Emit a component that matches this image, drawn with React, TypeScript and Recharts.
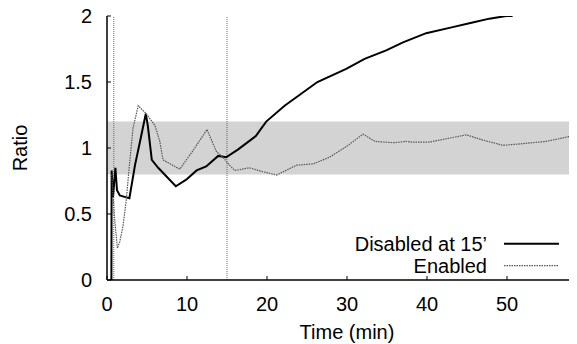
import React from 'react';
import { LineChart, Line, XAxis, YAxis, ReferenceArea, ReferenceLine, Legend } from 'recharts';

const FONT = '"Liberation Sans", Arial, Helvetica, sans-serif';

const disabledTime = [0.55, 0.58, 0.75, 1.05, 1.25, 1.6, 2.2, 2.8, 3.5, 4.2, 4.85, 5.1, 5.6, 6.4, 8.6, 9.9, 11.2, 12.4, 13.9, 14.9, 16.4, 18.6, 19.9, 22.2, 26.3, 29.9, 32.2, 34.9, 37.0, 39.9, 42.8, 45.7, 47.8, 49.9, 50.7];
const disabledRatio = [0, 0.83, 0.63, 0.85, 0.68, 0.64, 0.63, 0.62, 0.87, 1.07, 1.26, 1.17, 0.91, 0.85, 0.71, 0.76, 0.83, 0.86, 0.94, 0.93, 0.99, 1.09, 1.2, 1.32, 1.5, 1.6, 1.675, 1.74, 1.8, 1.87, 1.91, 1.95, 1.98, 2.0, 2.0];

const enabledTime = [0.6, 0.9, 1.3, 1.6, 2.0, 2.4, 2.8, 3.25, 3.9, 4.9, 6.0, 6.6, 7.0, 9.1, 10.75, 12.5, 13.7, 14.5, 15.3, 16.0, 17.8, 19.5, 21.2, 23.7, 25.8, 27.8, 29.9, 32.0, 33.5, 35.8, 37.4, 38.1, 40.3, 41.6, 44.9, 47.0, 49.5, 51.4, 54.9, 56.5, 58.7, 60];
const enabledRatio = [0.8, 0.5, 0.24, 0.29, 0.41, 0.6, 0.87, 1.15, 1.32, 1.26, 1.17, 1.05, 0.91, 0.84, 0.98, 1.14, 0.97, 0.93, 0.87, 0.83, 0.85, 0.82, 0.795, 0.87, 0.88, 0.93, 1.01, 1.105, 1.05, 1.04, 1.05, 1.045, 1.045, 1.06, 1.1, 1.06, 1.02, 1.03, 1.05, 1.07, 1.1, 1.12];

const xTicks = [0, 10, 20, 30, 40, 50];
const yTicks = [0, 0.5, 1, 1.5, 2];
const xDomain = [0, 58.75];
const bandLow = 0.8;
const bandHigh = 1.2;
const markerTimes = [0.85, 15];

const disabledData = disabledTime.map((t, i) => ({ t, v: disabledRatio[i] }));
const enabledData = enabledTime.map((t, i) => ({ t, v: enabledRatio[i] }));

const BottomTick = (props: any) => {
  const { x, y, payload } = props;
  return (
    <g>
      <line x1={x} y1={y} x2={x} y2={y - 4} stroke="#000" strokeWidth={1} />
      <text x={x} y={y + 30.5} textAnchor="middle" fontSize={20} fontFamily={FONT} fill="#000">
        {payload.value}
      </text>
    </g>
  );
};

const TopTick = (props: any) => {
  const { x, y } = props;
  return <line x1={x} y1={y} x2={x} y2={y + 4} stroke="#000" strokeWidth={1} />;
};

const LeftTick = (props: any) => {
  const { x, y, payload } = props;
  return (
    <g>
      <line x1={x} y1={y} x2={x + 4} y2={y} stroke="#000" strokeWidth={1} />
      <text x={x - 15} y={y + 7} textAnchor="end" fontSize={20} fontFamily={FONT} fill="#000">
        {String(payload.value)}
      </text>
    </g>
  );
};

const YLabel = (props: any) => {
  const vb = props.viewBox || { x: 0, y: 8, width: 99, height: 264 };
  const x = vb.x + 19;
  const y = vb.y + vb.height / 2;
  return (
    <text x={x} y={y} transform={`rotate(-90, ${x}, ${y})`} textAnchor="middle" fontSize={20} fontFamily={FONT} fill="#000">
      Ratio
    </text>
  );
};

const XLabel = (props: any) => {
  const vb = props.viewBox || { x: 99, y: 272, width: 470, height: 64 };
  return (
    <text x={vb.x + vb.width / 2 + 5} y={vb.y + 59} textAnchor="middle" fontSize={20} fontFamily={FONT} fill="#000">
      Time (min)
    </text>
  );
};

const LegendContent = (props: any) => {
  const items = props.payload || [];
  return (
    <svg width={230} height={50} style={{ display: 'block' }}>
      {items.map((entry: any, i: number) => {
        const cy = 13.7 + i * 22;
        const dash = entry.payload && entry.payload.strokeDasharray;
        return (
          <g key={i}>
            <text x={147} y={cy + 7} textAnchor="end" fontSize={20} fontFamily={FONT} fill="#000">
              {entry.value}
            </text>
            <line x1={164} y1={cy} x2={219} y2={cy} stroke={entry.color} strokeWidth={i === 0 ? 2 : 1.2} strokeDasharray={dash} />
          </g>
        );
      })}
    </svg>
  );
};

export default function App() {
  return (
    <div style={{ width: 569, height: 336, fontFamily: FONT }}>
      <LineChart width={569} height={336} margin={{ top: 8, right: 0, bottom: 0, left: 0 }} style={{ overflow: 'visible' }}>
        <XAxis
          xAxisId="bottom"
          dataKey="t"
          type="number"
          domain={xDomain}
          ticks={xTicks}
          allowDataOverflow
          height={64}
          tickSize={0}
          tickMargin={0}
          tickLine={false}
          axisLine={{ stroke: '#000', strokeWidth: 1.5 }}
          tick={<BottomTick />}
          interval={0}
          label={XLabel}
        />
        <XAxis
          xAxisId="top"
          orientation="top"
          dataKey="t"
          type="number"
          domain={xDomain}
          ticks={xTicks}
          allowDataOverflow
          height={0}
          tickSize={0}
          tickMargin={0}
          tickLine={false}
          axisLine={{ stroke: '#000', strokeWidth: 1.5 }}
          tick={<TopTick />}
          interval={0}
        />
        <YAxis
          yAxisId="left"
          type="number"
          domain={[0, 2]}
          ticks={yTicks}
          allowDataOverflow
          width={99}
          tickSize={0}
          tickMargin={0}
          tickLine={false}
          axisLine={{ stroke: '#000', strokeWidth: 1.5 }}
          tick={<LeftTick />}
          interval={0}
          label={YLabel}
        />
        <ReferenceArea xAxisId="bottom" yAxisId="left" y1={bandLow} y2={bandHigh} fill="#d3d3d3" fillOpacity={1} stroke="none" />
        {markerTimes.map((m) => (
          <ReferenceLine key={m} xAxisId="bottom" yAxisId="left" x={m} stroke="#666" strokeWidth={1} strokeDasharray="1 1" />
        ))}
        <Line
          xAxisId="bottom"
          yAxisId="left"
          data={disabledData}
          dataKey="v"
          name="Disabled at 15’"
          type="linear"
          stroke="#000"
          strokeWidth={2}
          dot={false}
          activeDot={false}
          isAnimationActive={false}
        />
        <Line
          xAxisId="bottom"
          yAxisId="left"
          data={enabledData}
          dataKey="v"
          name="Enabled"
          type="linear"
          stroke="#555"
          strokeWidth={1.2}
          strokeDasharray="1.5 1"
          dot={false}
          activeDot={false}
          isAnimationActive={false}
        />
        <Legend
          layout="vertical"
          align="center"
          verticalAlign="middle"
          content={<LegendContent />}
          wrapperStyle={{ position: 'absolute', left: 332, top: 222, width: 230, height: 50 }}
        />
      </LineChart>
    </div>
  );
}
